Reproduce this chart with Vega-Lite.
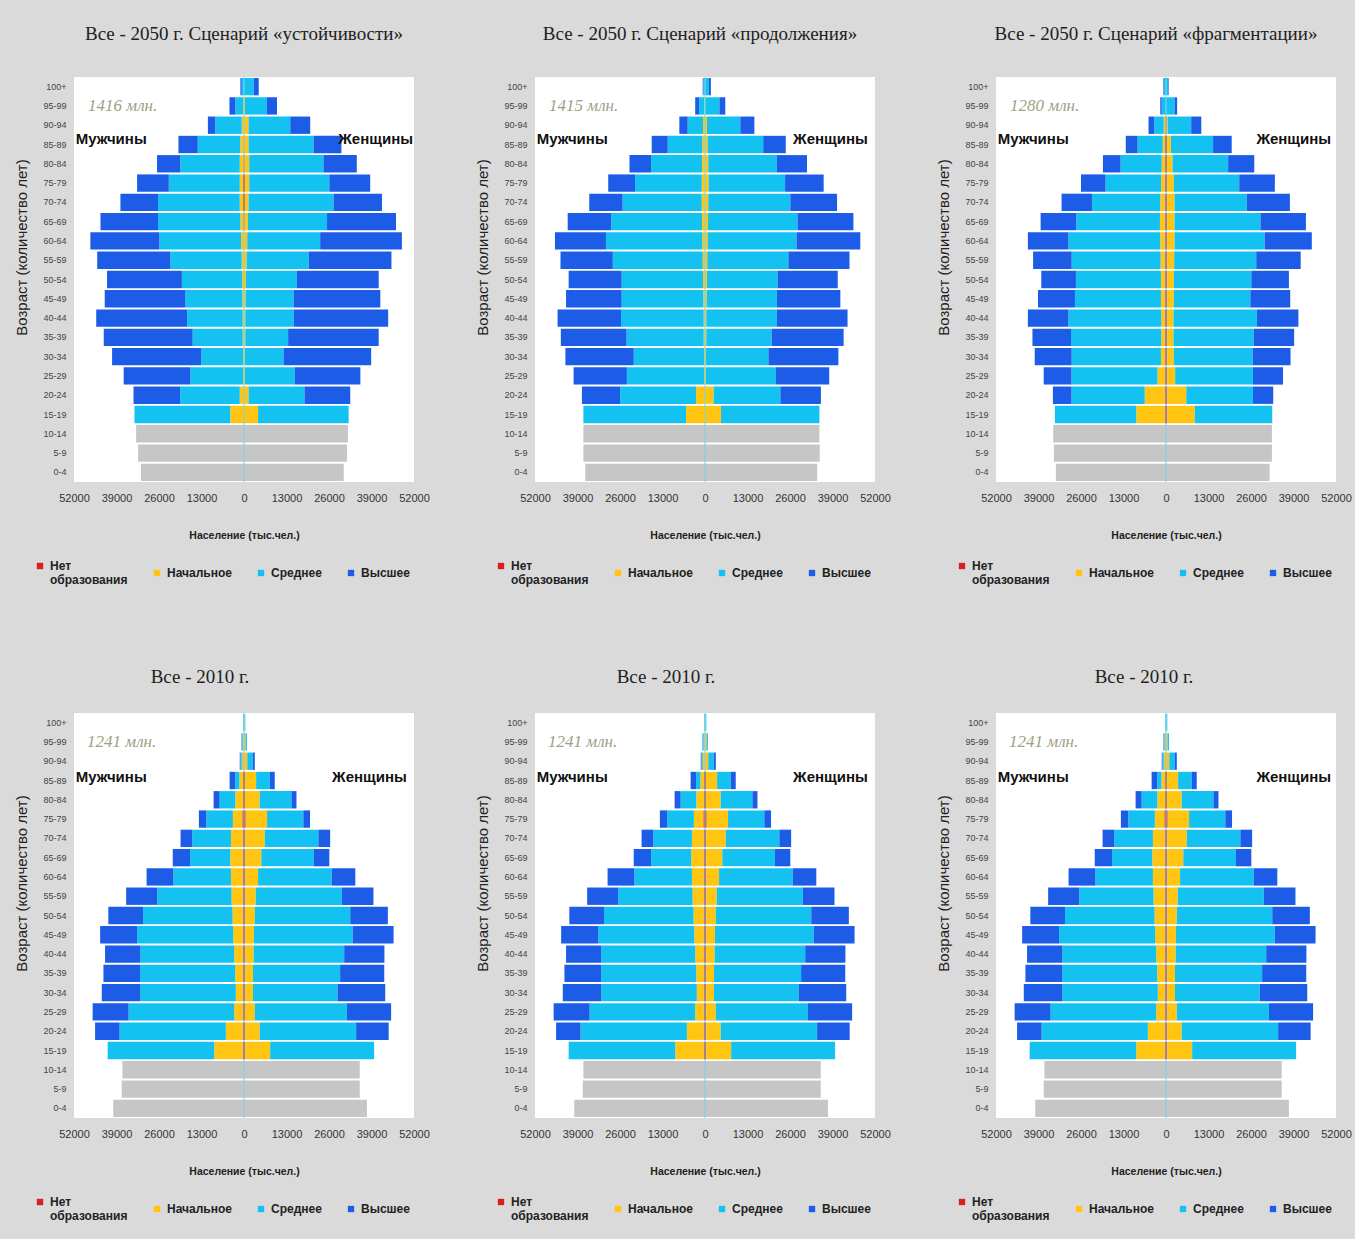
{
  "$schema": "https://vega.github.io/schema/vega-lite/v6.json",
  "background": "#dadada",
  "padding": {"left": 14, "top": 25, "right": 20, "bottom": 29},
  "bounds": "flush",
  "columns": 3,
  "spacing": {"row": 231, "column": 121},
  "resolve": {"scale": {"color": "independent", "x": "independent", "y": "independent"}, "legend": {"color": "independent"}},
  "config": {
    "font": "Liberation Sans",
    "view": {"fill": "white", "stroke": null},
    "axis": {"grid": false, "domain": false, "ticks": false},
    "axisY": {"labelFont": "Liberation Sans Narrow, Liberation Sans", "labelFontSize": 9, "labelColor": "#444", "labelPadding": 8, "titleFont": "Liberation Sans", "titleFontSize": 15, "titleFontWeight": "normal", "titleColor": "#222", "titlePadding": 13, "titleY": 170},
    "axisX": {"labelFont": "Liberation Sans Narrow, Liberation Sans", "labelFontSize": 11, "labelColor": "#333", "labelPadding": 10, "labelFlush": false, "labelOverlap": false, "titleFontSize": 10.5, "titleFontWeight": "bold", "titleColor": "#222", "titlePadding": 27},
    "title": {"font": "Liberation Serif", "fontSize": 19, "fontWeight": "normal", "color": "#222", "anchor": "middle", "frame": "group"},
    "legend": {"orient": "none", "legendX": -40, "legendY": 483, "direction": "horizontal", "symbolType": "square", "symbolSize": 40, "symbolStrokeWidth": 0, "labelFont": "Liberation Sans", "labelFontWeight": "bold", "labelFontSize": 12, "labelColor": "#222", "columnPadding": 23}
  },
  "datasets": {
    "p1": [
      {"a":"100+","g":"m","s":700,"h":400},
      {"a":"95-99","g":"m","p":300,"s":2350,"h":1800},
      {"a":"90-94","g":"m","n":100,"p":600,"s":8100,"h":2250},
      {"a":"85-89","g":"m","n":150,"p":1000,"s":13000,"h":5900},
      {"a":"80-84","g":"m","n":200,"p":1100,"s":18200,"h":7100},
      {"a":"75-79","g":"m","n":300,"p":1000,"s":21700,"h":9700},
      {"a":"70-74","g":"m","n":300,"p":1000,"s":25000,"h":11500},
      {"a":"65-69","g":"m","n":200,"p":900,"s":25200,"h":17600},
      {"a":"60-64","g":"m","n":100,"p":800,"s":25000,"h":21100},
      {"a":"55-59","g":"m","p":700,"s":21800,"h":22400},
      {"a":"50-54","g":"m","p":600,"s":18400,"h":22900},
      {"a":"45-49","g":"m","p":500,"s":17400,"h":24700},
      {"a":"40-44","g":"m","p":400,"s":17000,"h":27800},
      {"a":"35-39","g":"m","p":400,"s":15300,"h":27200},
      {"a":"30-34","g":"m","p":300,"s":12750,"h":27300},
      {"a":"25-29","g":"m","p":300,"s":16100,"h":20400},
      {"a":"20-24","g":"m","p":1300,"s":18200,"h":14300},
      {"a":"15-19","g":"m","p":4200,"s":29300},
      {"a":"10-14","g":"m","c":33000},
      {"a":"5-9","g":"m","c":32400},
      {"a":"0-4","g":"m","c":31500},
      {"a":"100+","g":"f","s":3000,"h":1500},
      {"a":"95-99","g":"f","p":300,"s":6700,"h":3100},
      {"a":"90-94","g":"f","n":100,"p":1300,"s":12750,"h":6100},
      {"a":"85-89","g":"f","n":150,"p":1250,"s":19900,"h":8500},
      {"a":"80-84","g":"f","n":200,"p":1400,"s":22700,"h":10200},
      {"a":"75-79","g":"f","n":300,"p":1300,"s":24500,"h":12500},
      {"a":"70-74","g":"f","n":300,"p":1100,"s":26000,"h":14800},
      {"a":"65-69","g":"f","n":200,"p":1000,"s":24200,"h":21100},
      {"a":"60-64","g":"f","n":100,"p":900,"s":22300,"h":25000},
      {"a":"55-59","g":"f","p":800,"s":19000,"h":25300},
      {"a":"50-54","g":"f","p":600,"s":15600,"h":25000},
      {"a":"45-49","g":"f","p":500,"s":14700,"h":26500},
      {"a":"40-44","g":"f","p":400,"s":14800,"h":28900},
      {"a":"35-39","g":"f","p":400,"s":13100,"h":27700},
      {"a":"30-34","g":"f","p":300,"s":11800,"h":26800},
      {"a":"25-29","g":"f","p":300,"s":15200,"h":20100},
      {"a":"20-24","g":"f","p":1400,"s":17100,"h":14000},
      {"a":"15-19","g":"f","p":4300,"s":27700},
      {"a":"10-14","g":"f","c":31800},
      {"a":"5-9","g":"f","c":31500},
      {"a":"0-4","g":"f","c":30500}
    ],
    "p2": [
      {"a":"100+","g":"m","s":500,"h":200},
      {"a":"95-99","g":"m","p":200,"s":1600,"h":1200},
      {"a":"90-94","g":"m","p":600,"s":4700,"h":2550},
      {"a":"85-89","g":"m","p":800,"s":10600,"h":4900},
      {"a":"80-84","g":"m","p":900,"s":15600,"h":6600},
      {"a":"75-79","g":"m","p":1000,"s":20400,"h":8200},
      {"a":"70-74","g":"m","p":1000,"s":24200,"h":10200},
      {"a":"65-69","g":"m","p":900,"s":27800,"h":13300},
      {"a":"60-64","g":"m","p":800,"s":29500,"h":15600},
      {"a":"55-59","g":"m","p":700,"s":27500,"h":16000},
      {"a":"50-54","g":"m","p":600,"s":24900,"h":16200},
      {"a":"45-49","g":"m","p":500,"s":25000,"h":17000},
      {"a":"40-44","g":"m","p":400,"s":25300,"h":19400},
      {"a":"35-39","g":"m","p":400,"s":23600,"h":20100},
      {"a":"30-34","g":"m","p":300,"s":21500,"h":20900},
      {"a":"25-29","g":"m","p":300,"s":23600,"h":16300},
      {"a":"20-24","g":"m","p":2750,"s":23200,"h":11700},
      {"a":"15-19","g":"m","p":5800,"s":31400},
      {"a":"10-14","g":"m","c":37200},
      {"a":"5-9","g":"m","c":37200},
      {"a":"0-4","g":"m","c":36600},
      {"a":"100+","g":"f","s":1200,"h":600},
      {"a":"95-99","g":"f","s":4400,"h":1800},
      {"a":"90-94","g":"f","p":600,"s":10200,"h":4300},
      {"a":"85-89","g":"f","p":800,"s":17000,"h":6900},
      {"a":"80-84","g":"f","p":1000,"s":21000,"h":9200},
      {"a":"75-79","g":"f","p":1100,"s":23400,"h":11800},
      {"a":"70-74","g":"f","p":1000,"s":25100,"h":14300},
      {"a":"65-69","g":"f","p":900,"s":27400,"h":17100},
      {"a":"60-64","g":"f","p":800,"s":27200,"h":19500},
      {"a":"55-59","g":"f","p":700,"s":24800,"h":18700},
      {"a":"50-54","g":"f","p":600,"s":21600,"h":18400},
      {"a":"45-49","g":"f","p":500,"s":21500,"h":19400},
      {"a":"40-44","g":"f","p":400,"s":21600,"h":21600},
      {"a":"35-39","g":"f","p":400,"s":20000,"h":22000},
      {"a":"30-34","g":"f","p":300,"s":19100,"h":21400},
      {"a":"25-29","g":"f","p":300,"s":21400,"h":16300},
      {"a":"20-24","g":"f","p":2650,"s":20400,"h":12400},
      {"a":"15-19","g":"f","p":4900,"s":30100},
      {"a":"10-14","g":"f","c":35000},
      {"a":"5-9","g":"f","c":35100},
      {"a":"0-4","g":"f","c":34300}
    ],
    "p3": [
      {"a":"100+","g":"m","s":600,"h":200},
      {"a":"95-99","g":"m","s":1300,"h":450},
      {"a":"90-94","g":"m","n":200,"p":500,"s":2900,"h":1750},
      {"a":"85-89","g":"m","n":300,"p":700,"s":7700,"h":3600},
      {"a":"80-84","g":"m","n":300,"p":1000,"s":12600,"h":5400},
      {"a":"75-79","g":"m","n":400,"p":1100,"s":17000,"h":7500},
      {"a":"70-74","g":"m","n":400,"p":1350,"s":20900,"h":9300},
      {"a":"65-69","g":"m","n":400,"p":1450,"s":25600,"h":10900},
      {"a":"60-64","g":"m","n":400,"p":1350,"s":28100,"h":12400},
      {"a":"55-59","g":"m","n":400,"p":1250,"s":27200,"h":11800},
      {"a":"50-54","g":"m","n":400,"p":1150,"s":26000,"h":10600},
      {"a":"45-49","g":"m","n":400,"p":1150,"s":26300,"h":11300},
      {"a":"40-44","g":"m","n":400,"p":1050,"s":28400,"h":12400},
      {"a":"35-39","g":"m","n":400,"p":1050,"s":27600,"h":11800},
      {"a":"30-34","g":"m","n":400,"p":1150,"s":27300,"h":11300},
      {"a":"25-29","g":"m","n":400,"p":2200,"s":26300,"h":8500},
      {"a":"20-24","g":"m","n":400,"p":6100,"s":22400,"h":5700},
      {"a":"15-19","g":"m","n":400,"p":8700,"s":24900},
      {"a":"10-14","g":"m","c":34500},
      {"a":"5-9","g":"m","c":34300},
      {"a":"0-4","g":"m","c":33700},
      {"a":"100+","g":"f","s":600,"h":200},
      {"a":"95-99","g":"f","s":2600,"h":800},
      {"a":"90-94","g":"f","n":200,"p":300,"s":7200,"h":3100},
      {"a":"85-89","g":"f","n":300,"p":1200,"s":12900,"h":5700},
      {"a":"80-84","g":"f","n":300,"p":1700,"s":17000,"h":8000},
      {"a":"75-79","g":"f","n":400,"p":2000,"s":20000,"h":10900},
      {"a":"70-74","g":"f","n":400,"p":2200,"s":22100,"h":13200},
      {"a":"65-69","g":"f","n":400,"p":2200,"s":26300,"h":13900},
      {"a":"60-64","g":"f","n":400,"p":2200,"s":27600,"h":14400},
      {"a":"55-59","g":"f","n":400,"p":2100,"s":25100,"h":13600},
      {"a":"50-54","g":"f","n":400,"p":2000,"s":23700,"h":11500},
      {"a":"45-49","g":"f","n":400,"p":2000,"s":23400,"h":12200},
      {"a":"40-44","g":"f","n":400,"p":1900,"s":25500,"h":12700},
      {"a":"35-39","g":"f","n":400,"p":1900,"s":24500,"h":12400},
      {"a":"30-34","g":"f","n":400,"p":2000,"s":24100,"h":11600},
      {"a":"25-29","g":"f","n":400,"p":2400,"s":23800,"h":9200},
      {"a":"20-24","g":"f","n":400,"p":5800,"s":20400,"h":6200},
      {"a":"15-19","g":"f","n":400,"p":8400,"s":23700},
      {"a":"10-14","g":"f","c":32400},
      {"a":"5-9","g":"f","c":32400},
      {"a":"0-4","g":"f","c":31700}
    ],
    "y2010": [
      {"a":"100+","g":"m","p":100,"s":200},
      {"a":"95-99","g":"m","n":100,"p":300,"s":300,"h":100},
      {"a":"90-94","g":"m","n":100,"p":600,"s":400,"h":200},
      {"a":"85-89","g":"m","n":300,"p":1100,"s":1300,"h":1700},
      {"a":"80-84","g":"m","n":300,"p":2350,"s":4800,"h":1850},
      {"a":"75-79","g":"m","n":500,"p":2900,"s":8150,"h":2250},
      {"a":"70-74","g":"m","n":400,"p":3600,"s":11800,"h":3600},
      {"a":"65-69","g":"m","n":400,"p":3800,"s":12300,"h":5300},
      {"a":"60-64","g":"m","n":400,"p":3600,"s":17600,"h":8200},
      {"a":"55-59","g":"m","n":400,"p":3400,"s":22750,"h":9500},
      {"a":"50-54","g":"m","n":400,"p":3100,"s":27400,"h":10600},
      {"a":"45-49","g":"m","n":400,"p":2900,"s":29400,"h":11300},
      {"a":"40-44","g":"m","n":400,"p":2600,"s":28700,"h":10800},
      {"a":"35-39","g":"m","n":400,"p":2300,"s":29000,"h":11300},
      {"a":"30-34","g":"m","n":400,"p":2100,"s":29200,"h":11800},
      {"a":"25-29","g":"m","n":400,"p":2600,"s":32300,"h":11000},
      {"a":"20-24","g":"m","n":400,"p":5150,"s":32500,"h":7500},
      {"a":"15-19","g":"m","n":400,"p":8700,"s":32600},
      {"a":"10-14","g":"m","c":37200},
      {"a":"5-9","g":"m","c":37400},
      {"a":"0-4","g":"m","c":40000},
      {"a":"100+","g":"f","p":100,"s":300},
      {"a":"95-99","g":"f","n":100,"p":400,"s":400},
      {"a":"90-94","g":"f","n":100,"p":900,"s":1700,"h":600},
      {"a":"85-89","g":"f","n":300,"p":3400,"s":4200,"h":1500},
      {"a":"80-84","g":"f","n":300,"p":4500,"s":9700,"h":1550},
      {"a":"75-79","g":"f","n":500,"p":6550,"s":11100,"h":2050},
      {"a":"70-74","g":"f","n":400,"p":5950,"s":16400,"h":3600},
      {"a":"65-69","g":"f","n":400,"p":4900,"s":16100,"h":4700},
      {"a":"60-64","g":"f","n":400,"p":3900,"s":22550,"h":7200},
      {"a":"55-59","g":"f","n":400,"p":3200,"s":26300,"h":9700},
      {"a":"50-54","g":"f","n":400,"p":2900,"s":29200,"h":11500},
      {"a":"45-49","g":"f","n":400,"p":2650,"s":30200,"h":12500},
      {"a":"40-44","g":"f","n":400,"p":2550,"s":27700,"h":12300},
      {"a":"35-39","g":"f","n":400,"p":2350,"s":26650,"h":13500},
      {"a":"30-34","g":"f","n":400,"p":2350,"s":25900,"h":14550},
      {"a":"25-29","g":"f","n":400,"p":2900,"s":28200,"h":13500},
      {"a":"20-24","g":"f","n":400,"p":4400,"s":29500,"h":9950},
      {"a":"15-19","g":"f","n":400,"p":7600,"s":31800},
      {"a":"10-14","g":"f","c":35400},
      {"a":"5-9","g":"f","c":35400},
      {"a":"0-4","g":"f","c":37600}
    ]
  },
  "concat": [
    {
      "width": 340, "height": 405,
      "title": {"text": "Все - 2050 г.  Сценарий «устойчивости»", "offset": 32},
      "layer": [
        {
          "data": {"name": "p1"},
          "transform": [
            {"fold": ["c","n","p","s","h"], "as": ["edu","val"]},
            {"filter": "datum.val > 0"},
            {"calculate": "datum.g == 'm' ? -datum.val : datum.val", "as": "v"},
            {"calculate": "indexof(['c','n','p','s','h'], datum.edu)", "as": "ord"}
          ],
          "mark": {"type": "bar"},
          "encoding": {
            "y": {"field": "a", "type": "ordinal", "scale": {"domain": ["100+","95-99","90-94","85-89","80-84","75-79","70-74","65-69","60-64","55-59","50-54","45-49","40-44","35-39","30-34","25-29","20-24","15-19","10-14","5-9","0-4"], "paddingInner": 0.1, "paddingOuter": 0.05}, "axis": {"title": "Возраст (количество лет)"}},
            "x": {"field": "v", "type": "quantitative", "stack": "zero", "scale": {"domain": [-52000, 52000], "nice": false}, "axis": {"title": "Население (тыс.чел.)", "values": [-52000,-39000,-26000,-13000,0,13000,26000,39000,52000], "labelExpr": "format(abs(datum.value), 'd')"}},
            "color": {"field": "edu", "type": "nominal", "scale": {"domain": ["n","p","s","h","c"], "range": ["#d81e1e","#ffc511","#14c2f2","#1c5ce6","#c6c6c6"]}, "legend": {"title": null, "values": ["n","p","s","h"], "labelExpr": "datum.value == 'n' ? ['Нет', 'образования'] : datum.value == 'p' ? 'Начальное' : datum.value == 's' ? 'Среднее' : 'Высшее'"}},
            "order": {"field": "ord", "type": "quantitative"}
          }
        },
        {"data": {"values": [{}]}, "mark": {"type": "rule", "color": "#7fd3e6", "strokeWidth": 2, "opacity": 0.55}, "encoding": {"x": {"datum": 0}}},
        {"data": {"values": [{"x": -47700, "a": "95-99", "t": "1416 млн."}]}, "mark": {"type": "text", "align": "left", "baseline": "middle", "font": "Liberation Serif", "fontStyle": "italic", "fontSize": 17, "color": "#a0a084"}, "encoding": {"x": {"field": "x", "type": "quantitative"}, "y": {"field": "a", "type": "ordinal"}, "text": {"field": "t"}}},
        {"data": {"values": [{"x": -51500, "a": "85-89", "t": "Мужчины"}]}, "mark": {"type": "text", "align": "left", "baseline": "middle", "dy": -6, "fontWeight": "bold", "fontSize": 15, "color": "#111"}, "encoding": {"x": {"field": "x", "type": "quantitative"}, "y": {"field": "a", "type": "ordinal"}, "text": {"field": "t"}}},
        {"data": {"values": [{"x": 51700, "a": "85-89", "t": "Женщины"}]}, "mark": {"type": "text", "align": "right", "baseline": "middle", "dy": -6, "fontWeight": "bold", "fontSize": 15, "color": "#111"}, "encoding": {"x": {"field": "x", "type": "quantitative"}, "y": {"field": "a", "type": "ordinal"}, "text": {"field": "t"}}}
      ]
    },
    {
      "width": 340, "height": 405,
      "title": {"text": "Все - 2050 г.  Сценарий «продолжения»", "offset": 32, "dx": -5},
      "layer": [
        {
          "data": {"name": "p2"},
          "transform": [
            {"fold": ["c","n","p","s","h"], "as": ["edu","val"]},
            {"filter": "datum.val > 0"},
            {"calculate": "datum.g == 'm' ? -datum.val : datum.val", "as": "v"},
            {"calculate": "indexof(['c','n','p','s','h'], datum.edu)", "as": "ord"}
          ],
          "mark": {"type": "bar"},
          "encoding": {
            "y": {"field": "a", "type": "ordinal", "scale": {"domain": ["100+","95-99","90-94","85-89","80-84","75-79","70-74","65-69","60-64","55-59","50-54","45-49","40-44","35-39","30-34","25-29","20-24","15-19","10-14","5-9","0-4"], "paddingInner": 0.1, "paddingOuter": 0.05}, "axis": {"title": "Возраст (количество лет)"}},
            "x": {"field": "v", "type": "quantitative", "stack": "zero", "scale": {"domain": [-52000, 52000], "nice": false}, "axis": {"title": "Население (тыс.чел.)", "values": [-52000,-39000,-26000,-13000,0,13000,26000,39000,52000], "labelExpr": "format(abs(datum.value), 'd')"}},
            "color": {"field": "edu", "type": "nominal", "scale": {"domain": ["n","p","s","h","c"], "range": ["#d81e1e","#ffc511","#14c2f2","#1c5ce6","#c6c6c6"]}, "legend": {"title": null, "values": ["n","p","s","h"], "labelExpr": "datum.value == 'n' ? ['Нет', 'образования'] : datum.value == 'p' ? 'Начальное' : datum.value == 's' ? 'Среднее' : 'Высшее'"}},
            "order": {"field": "ord", "type": "quantitative"}
          }
        },
        {"data": {"values": [{}]}, "mark": {"type": "rule", "color": "#7fd3e6", "strokeWidth": 2, "opacity": 0.55}, "encoding": {"x": {"datum": 0}}},
        {"data": {"values": [{"x": -47700, "a": "95-99", "t": "1415 млн."}]}, "mark": {"type": "text", "align": "left", "baseline": "middle", "font": "Liberation Serif", "fontStyle": "italic", "fontSize": 17, "color": "#a0a084"}, "encoding": {"x": {"field": "x", "type": "quantitative"}, "y": {"field": "a", "type": "ordinal"}, "text": {"field": "t"}}},
        {"data": {"values": [{"x": -51500, "a": "85-89", "t": "Мужчины"}]}, "mark": {"type": "text", "align": "left", "baseline": "middle", "dy": -6, "fontWeight": "bold", "fontSize": 15, "color": "#111"}, "encoding": {"x": {"field": "x", "type": "quantitative"}, "y": {"field": "a", "type": "ordinal"}, "text": {"field": "t"}}},
        {"data": {"values": [{"x": 49800, "a": "85-89", "t": "Женщины"}]}, "mark": {"type": "text", "align": "right", "baseline": "middle", "dy": -6, "fontWeight": "bold", "fontSize": 15, "color": "#111"}, "encoding": {"x": {"field": "x", "type": "quantitative"}, "y": {"field": "a", "type": "ordinal"}, "text": {"field": "t"}}}
      ]
    },
    {
      "width": 340, "height": 405,
      "title": {"text": "Все - 2050 г.  Сценарий «фрагментации»", "offset": 32, "dx": -10},
      "layer": [
        {
          "data": {"name": "p3"},
          "transform": [
            {"fold": ["c","n","p","s","h"], "as": ["edu","val"]},
            {"filter": "datum.val > 0"},
            {"calculate": "datum.g == 'm' ? -datum.val : datum.val", "as": "v"},
            {"calculate": "indexof(['c','n','p','s','h'], datum.edu)", "as": "ord"}
          ],
          "mark": {"type": "bar"},
          "encoding": {
            "y": {"field": "a", "type": "ordinal", "scale": {"domain": ["100+","95-99","90-94","85-89","80-84","75-79","70-74","65-69","60-64","55-59","50-54","45-49","40-44","35-39","30-34","25-29","20-24","15-19","10-14","5-9","0-4"], "paddingInner": 0.1, "paddingOuter": 0.05}, "axis": {"title": "Возраст (количество лет)"}},
            "x": {"field": "v", "type": "quantitative", "stack": "zero", "scale": {"domain": [-52000, 52000], "nice": false}, "axis": {"title": "Население (тыс.чел.)", "values": [-52000,-39000,-26000,-13000,0,13000,26000,39000,52000], "labelExpr": "format(abs(datum.value), 'd')"}},
            "color": {"field": "edu", "type": "nominal", "scale": {"domain": ["n","p","s","h","c"], "range": ["#d81e1e","#ffc511","#14c2f2","#1c5ce6","#c6c6c6"]}, "legend": {"title": null, "values": ["n","p","s","h"], "labelExpr": "datum.value == 'n' ? ['Нет', 'образования'] : datum.value == 'p' ? 'Начальное' : datum.value == 's' ? 'Среднее' : 'Высшее'"}},
            "order": {"field": "ord", "type": "quantitative"}
          }
        },
        {"data": {"values": [{}]}, "mark": {"type": "rule", "color": "#7fd3e6", "strokeWidth": 2, "opacity": 0.55}, "encoding": {"x": {"datum": 0}}},
        {"data": {"values": [{"x": -47700, "a": "95-99", "t": "1280 млн."}]}, "mark": {"type": "text", "align": "left", "baseline": "middle", "font": "Liberation Serif", "fontStyle": "italic", "fontSize": 17, "color": "#a0a084"}, "encoding": {"x": {"field": "x", "type": "quantitative"}, "y": {"field": "a", "type": "ordinal"}, "text": {"field": "t"}}},
        {"data": {"values": [{"x": -51500, "a": "85-89", "t": "Мужчины"}]}, "mark": {"type": "text", "align": "left", "baseline": "middle", "dy": -6, "fontWeight": "bold", "fontSize": 15, "color": "#111"}, "encoding": {"x": {"field": "x", "type": "quantitative"}, "y": {"field": "a", "type": "ordinal"}, "text": {"field": "t"}}},
        {"data": {"values": [{"x": 50500, "a": "85-89", "t": "Женщины"}]}, "mark": {"type": "text", "align": "right", "baseline": "middle", "dy": -6, "fontWeight": "bold", "fontSize": 15, "color": "#111"}, "encoding": {"x": {"field": "x", "type": "quantitative"}, "y": {"field": "a", "type": "ordinal"}, "text": {"field": "t"}}}
      ]
    },
    {
      "width": 340, "height": 405,
      "title": {"text": "Все - 2010 г.", "offset": 25, "dx": -44},
      "layer": [
        {
          "data": {"name": "y2010"},
          "transform": [
            {"fold": ["c","n","p","s","h"], "as": ["edu","val"]},
            {"filter": "datum.val > 0"},
            {"calculate": "datum.g == 'm' ? -datum.val : datum.val", "as": "v"},
            {"calculate": "indexof(['c','n','p','s','h'], datum.edu)", "as": "ord"}
          ],
          "mark": {"type": "bar"},
          "encoding": {
            "y": {"field": "a", "type": "ordinal", "scale": {"domain": ["100+","95-99","90-94","85-89","80-84","75-79","70-74","65-69","60-64","55-59","50-54","45-49","40-44","35-39","30-34","25-29","20-24","15-19","10-14","5-9","0-4"], "paddingInner": 0.1, "paddingOuter": 0.05}, "axis": {"title": "Возраст (количество лет)"}},
            "x": {"field": "v", "type": "quantitative", "stack": "zero", "scale": {"domain": [-52000, 52000], "nice": false}, "axis": {"title": "Население (тыс.чел.)", "values": [-52000,-39000,-26000,-13000,0,13000,26000,39000,52000], "labelExpr": "format(abs(datum.value), 'd')"}},
            "color": {"field": "edu", "type": "nominal", "scale": {"domain": ["n","p","s","h","c"], "range": ["#d81e1e","#ffc511","#14c2f2","#1c5ce6","#c6c6c6"]}, "legend": {"title": null, "values": ["n","p","s","h"], "labelExpr": "datum.value == 'n' ? ['Нет', 'образования'] : datum.value == 'p' ? 'Начальное' : datum.value == 's' ? 'Среднее' : 'Высшее'"}},
            "order": {"field": "ord", "type": "quantitative"}
          }
        },
        {"data": {"values": [{}]}, "mark": {"type": "rule", "color": "#7fd3e6", "strokeWidth": 2, "opacity": 0.55}, "encoding": {"x": {"datum": 0}}},
        {"data": {"values": [{"x": -48000, "a": "95-99", "t": "1241 млн."}]}, "mark": {"type": "text", "align": "left", "baseline": "middle", "font": "Liberation Serif", "fontStyle": "italic", "fontSize": 17, "color": "#a0a084"}, "encoding": {"x": {"field": "x", "type": "quantitative"}, "y": {"field": "a", "type": "ordinal"}, "text": {"field": "t"}}},
        {"data": {"values": [{"x": -51500, "a": "85-89", "t": "Мужчины"}]}, "mark": {"type": "text", "align": "left", "baseline": "middle", "dy": -4, "fontWeight": "bold", "fontSize": 15, "color": "#111"}, "encoding": {"x": {"field": "x", "type": "quantitative"}, "y": {"field": "a", "type": "ordinal"}, "text": {"field": "t"}}},
        {"data": {"values": [{"x": 49800, "a": "85-89", "t": "Женщины"}]}, "mark": {"type": "text", "align": "right", "baseline": "middle", "dy": -4, "fontWeight": "bold", "fontSize": 15, "color": "#111"}, "encoding": {"x": {"field": "x", "type": "quantitative"}, "y": {"field": "a", "type": "ordinal"}, "text": {"field": "t"}}}
      ]
    },
    {
      "width": 340, "height": 405,
      "title": {"text": "Все - 2010 г.", "offset": 25, "dx": -39},
      "layer": [
        {
          "data": {"name": "y2010"},
          "transform": [
            {"fold": ["c","n","p","s","h"], "as": ["edu","val"]},
            {"filter": "datum.val > 0"},
            {"calculate": "datum.g == 'm' ? -datum.val : datum.val", "as": "v"},
            {"calculate": "indexof(['c','n','p','s','h'], datum.edu)", "as": "ord"}
          ],
          "mark": {"type": "bar"},
          "encoding": {
            "y": {"field": "a", "type": "ordinal", "scale": {"domain": ["100+","95-99","90-94","85-89","80-84","75-79","70-74","65-69","60-64","55-59","50-54","45-49","40-44","35-39","30-34","25-29","20-24","15-19","10-14","5-9","0-4"], "paddingInner": 0.1, "paddingOuter": 0.05}, "axis": {"title": "Возраст (количество лет)"}},
            "x": {"field": "v", "type": "quantitative", "stack": "zero", "scale": {"domain": [-52000, 52000], "nice": false}, "axis": {"title": "Население (тыс.чел.)", "values": [-52000,-39000,-26000,-13000,0,13000,26000,39000,52000], "labelExpr": "format(abs(datum.value), 'd')"}},
            "color": {"field": "edu", "type": "nominal", "scale": {"domain": ["n","p","s","h","c"], "range": ["#d81e1e","#ffc511","#14c2f2","#1c5ce6","#c6c6c6"]}, "legend": {"title": null, "values": ["n","p","s","h"], "labelExpr": "datum.value == 'n' ? ['Нет', 'образования'] : datum.value == 'p' ? 'Начальное' : datum.value == 's' ? 'Среднее' : 'Высшее'"}},
            "order": {"field": "ord", "type": "quantitative"}
          }
        },
        {"data": {"values": [{}]}, "mark": {"type": "rule", "color": "#7fd3e6", "strokeWidth": 2, "opacity": 0.55}, "encoding": {"x": {"datum": 0}}},
        {"data": {"values": [{"x": -48000, "a": "95-99", "t": "1241 млн."}]}, "mark": {"type": "text", "align": "left", "baseline": "middle", "font": "Liberation Serif", "fontStyle": "italic", "fontSize": 17, "color": "#a0a084"}, "encoding": {"x": {"field": "x", "type": "quantitative"}, "y": {"field": "a", "type": "ordinal"}, "text": {"field": "t"}}},
        {"data": {"values": [{"x": -51500, "a": "85-89", "t": "Мужчины"}]}, "mark": {"type": "text", "align": "left", "baseline": "middle", "dy": -4, "fontWeight": "bold", "fontSize": 15, "color": "#111"}, "encoding": {"x": {"field": "x", "type": "quantitative"}, "y": {"field": "a", "type": "ordinal"}, "text": {"field": "t"}}},
        {"data": {"values": [{"x": 49800, "a": "85-89", "t": "Женщины"}]}, "mark": {"type": "text", "align": "right", "baseline": "middle", "dy": -4, "fontWeight": "bold", "fontSize": 15, "color": "#111"}, "encoding": {"x": {"field": "x", "type": "quantitative"}, "y": {"field": "a", "type": "ordinal"}, "text": {"field": "t"}}}
      ]
    },
    {
      "width": 340, "height": 405,
      "title": {"text": "Все - 2010 г.", "offset": 25, "dx": -22},
      "layer": [
        {
          "data": {"name": "y2010"},
          "transform": [
            {"fold": ["c","n","p","s","h"], "as": ["edu","val"]},
            {"filter": "datum.val > 0"},
            {"calculate": "datum.g == 'm' ? -datum.val : datum.val", "as": "v"},
            {"calculate": "indexof(['c','n','p','s','h'], datum.edu)", "as": "ord"}
          ],
          "mark": {"type": "bar"},
          "encoding": {
            "y": {"field": "a", "type": "ordinal", "scale": {"domain": ["100+","95-99","90-94","85-89","80-84","75-79","70-74","65-69","60-64","55-59","50-54","45-49","40-44","35-39","30-34","25-29","20-24","15-19","10-14","5-9","0-4"], "paddingInner": 0.1, "paddingOuter": 0.05}, "axis": {"title": "Возраст (количество лет)"}},
            "x": {"field": "v", "type": "quantitative", "stack": "zero", "scale": {"domain": [-52000, 52000], "nice": false}, "axis": {"title": "Население (тыс.чел.)", "values": [-52000,-39000,-26000,-13000,0,13000,26000,39000,52000], "labelExpr": "format(abs(datum.value), 'd')"}},
            "color": {"field": "edu", "type": "nominal", "scale": {"domain": ["n","p","s","h","c"], "range": ["#d81e1e","#ffc511","#14c2f2","#1c5ce6","#c6c6c6"]}, "legend": {"title": null, "values": ["n","p","s","h"], "labelExpr": "datum.value == 'n' ? ['Нет', 'образования'] : datum.value == 'p' ? 'Начальное' : datum.value == 's' ? 'Среднее' : 'Высшее'"}},
            "order": {"field": "ord", "type": "quantitative"}
          }
        },
        {"data": {"values": [{}]}, "mark": {"type": "rule", "color": "#7fd3e6", "strokeWidth": 2, "opacity": 0.55}, "encoding": {"x": {"datum": 0}}},
        {"data": {"values": [{"x": -48000, "a": "95-99", "t": "1241 млн."}]}, "mark": {"type": "text", "align": "left", "baseline": "middle", "font": "Liberation Serif", "fontStyle": "italic", "fontSize": 17, "color": "#a0a084"}, "encoding": {"x": {"field": "x", "type": "quantitative"}, "y": {"field": "a", "type": "ordinal"}, "text": {"field": "t"}}},
        {"data": {"values": [{"x": -51500, "a": "85-89", "t": "Мужчины"}]}, "mark": {"type": "text", "align": "left", "baseline": "middle", "dy": -4, "fontWeight": "bold", "fontSize": 15, "color": "#111"}, "encoding": {"x": {"field": "x", "type": "quantitative"}, "y": {"field": "a", "type": "ordinal"}, "text": {"field": "t"}}},
        {"data": {"values": [{"x": 50500, "a": "85-89", "t": "Женщины"}]}, "mark": {"type": "text", "align": "right", "baseline": "middle", "dy": -4, "fontWeight": "bold", "fontSize": 15, "color": "#111"}, "encoding": {"x": {"field": "x", "type": "quantitative"}, "y": {"field": "a", "type": "ordinal"}, "text": {"field": "t"}}}
      ]
    }
  ]
}
